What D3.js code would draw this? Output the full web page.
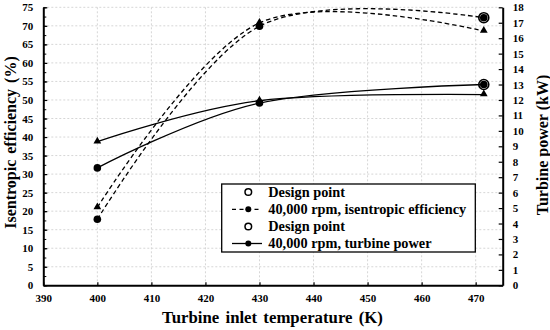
<!DOCTYPE html>
<html><head><meta charset="utf-8">
<script src="https://cdn.jsdelivr.net/npm/d3@7"></script>
<style>
body{margin:0;background:#fff}
text{font-family:"Liberation Serif","Times New Roman",serif;font-weight:bold;fill:#000}
</style>
</head><body>
<svg id="c" width="550" height="330"></svg>
<script>
// ---- data ----
const temps = [400, 430, 471.5];
const effCircle = [17.8, 69.9, 72.2];
const effTriangle = [21.0, 70.8, 68.6];
const powCircle = [7.6, 11.8, 13.0];
const powTriangle = [9.3, 11.95, 12.35];
const designTemp = [471.5];
const designEff = [72.2];
const designPow = [13.0];
const xTicks = [390, 400, 410, 420, 430, 440, 450, 460, 470];
const leftTicks = [0,5,10,15,20,25,30,35,40,45,50,55,60,65,70,75];
const rightTicks = [0,1,2,3,4,5,6,7,8,9,10,11,12,13,14,15,16,17,18];
const legendLabels = ["Design point", "40,000 rpm, isentropic efficiency", "Design point", "40,000 rpm, turbine power"];

const SERIF = '"Liberation Serif","Times New Roman",serif';
const svg = d3.select("#c");
const L = 43.3, R = 502.7, T = 7.3, B = 285.3;
const x = d3.scaleLinear().domain([390, 475]).range([L, R]);
const yL = d3.scaleLinear().domain([0, 75]).range([B, T]);
const yR = d3.scaleLinear().domain([0, 18]).range([B, T]);

// grid
const grid = svg.append("g").attr("stroke", "#d6d6d6").attr("stroke-dasharray", "2,2").attr("stroke-width", 1);
xTicks.filter(d => d > 390).forEach(d => grid.append("line").attr("x1", x(d)).attr("x2", x(d)).attr("y1", T).attr("y2", B));
leftTicks.filter(d => d > 0).forEach(d => grid.append("line").attr("x1", L).attr("x2", R).attr("y1", yL(d)).attr("y2", yL(d)));

// axes
function styleAxis(g, fontSize) {
  g.attr("font-family", SERIF).attr("font-size", fontSize).attr("font-weight", "bold");
  g.select(".domain").attr("stroke", "#000").attr("stroke-width", 2);
  g.selectAll(".tick line").attr("stroke", "#000").attr("stroke-width", 1.2);
  g.selectAll("text").attr("font-family", SERIF).attr("font-size", fontSize).attr("font-weight", "bold");
}
// minor ticks
svg.append("g").attr("transform", `translate(${L},0)`)
  .call(d3.axisLeft(yL).tickValues(d3.range(0, 75.1, 2.5)).tickSize(-3).tickFormat(""))
  .call(g => { g.select(".domain").remove(); g.selectAll("line").attr("stroke", "#000"); });

const gx = svg.append("g").attr("transform", `translate(0,${B})`)
  .call(d3.axisBottom(x).tickValues(xTicks).tickSize(-3).tickSizeOuter(0).tickPadding(9).tickFormat(d3.format("d")));
styleAxis(gx, 11);
const gl = svg.append("g").attr("transform", `translate(${L},0)`)
  .call(d3.axisLeft(yL).tickValues(leftTicks).tickSize(-4).tickSizeOuter(0).tickPadding(10));
styleAxis(gl, 11);
const gr = svg.append("g").attr("transform", `translate(${R},0)`)
  .call(d3.axisRight(yR).tickValues(rightTicks).tickSize(-4).tickSizeOuter(0).tickPadding(10));
styleAxis(gr, 11);
gx.selectAll(".tick text").attr("dy", "0.71em");

// titles
svg.append("text").attr("x", 272.5).attr("y", 323).attr("text-anchor", "middle").attr("font-size", 16.8)
  .attr("word-spacing", 2).text("Turbine inlet temperature (K)");
svg.append("text").attr("transform", "translate(16,142.5) rotate(-90)").attr("text-anchor", "middle").attr("font-size", 16)
  .attr("word-spacing", 2).text("Isentropic efficiency (%)");
svg.append("text").attr("transform", "translate(548,145) rotate(-90)").attr("text-anchor", "middle").attr("font-size", 16)
  .text("Turbine power (kW)");

// lines
const curve = d3.curveCardinal.tension(0);
const lineL = d3.line().x((d, i) => x(temps[i])).y(d => yL(d)).curve(curve);
const lineR = d3.line().x((d, i) => x(temps[i])).y(d => yR(d)).curve(curve);
const lines = svg.append("g").attr("fill", "none").attr("stroke", "#000").attr("stroke-width", 1.3);
lines.append("path").attr("d", lineL(effCircle)).attr("stroke-dasharray", "4.5,3");
lines.append("path").attr("d", lineL(effTriangle)).attr("stroke-dasharray", "4.5,3");
lines.append("path").attr("d", lineR(powCircle));
lines.append("path").attr("d", lineR(powTriangle));

// markers
const tri = d3.symbol().type(d3.symbolTriangle).size(26);
const mk = svg.append("g");
function circles(vals, ys) {
  vals.forEach((v, i) => mk.append("circle").attr("cx", x(temps[i])).attr("cy", ys(v)).attr("r", 3.8).attr("fill", "#000"));
}
function tris(vals, ys) {
  vals.forEach((v, i) => mk.append("path").attr("d", tri()).attr("transform", `translate(${x(temps[i])},${ys(v) - 0.5})`).attr("fill", "#000"));
}
tris(effTriangle, yL); tris(powTriangle, yR);
circles(effCircle, yL); circles(powCircle, yR);
designTemp.forEach((t, i) => {
  mk.append("circle").attr("cx", x(t)).attr("cy", yL(designEff[i])).attr("r", 5).attr("fill", "none").attr("stroke", "#000").attr("stroke-width", 1.6);
  mk.append("circle").attr("cx", x(t)).attr("cy", yR(designPow[i])).attr("r", 5).attr("fill", "none").attr("stroke", "#000").attr("stroke-width", 1.6);
});

// legend
const lg = svg.append("g");
lg.append("rect").attr("x", 221.7).attr("y", 184).attr("width", 253.6).attr("height", 68)
  .attr("fill", "#fff").attr("stroke", "#000").attr("stroke-width", 1.3);
const rowY = [192, 209.3, 226.5, 243.5];
legendLabels.forEach((lab, i) => {
  const cy = rowY[i];
  if (i % 2 === 0) {
    lg.append("circle").attr("cx", 248.3).attr("cy", cy).attr("r", 3.3).attr("fill", "#fff").attr("stroke", "#000").attr("stroke-width", 1.5);
  } else {
    lg.append("line").attr("x1", 232).attr("x2", 262).attr("y1", cy).attr("y2", cy).attr("stroke", "#000").attr("stroke-width", 1.3)
      .attr("stroke-dasharray", i === 1 ? "4,3.5" : null);
    lg.append("circle").attr("cx", 248.3).attr("cy", cy).attr("r", 3).attr("fill", "#000");
  }
  lg.append("text").attr("x", 268.3).attr("y", cy + 4.6).attr("font-size", 14.3).text(lab);
});
</script>
</body></html>
